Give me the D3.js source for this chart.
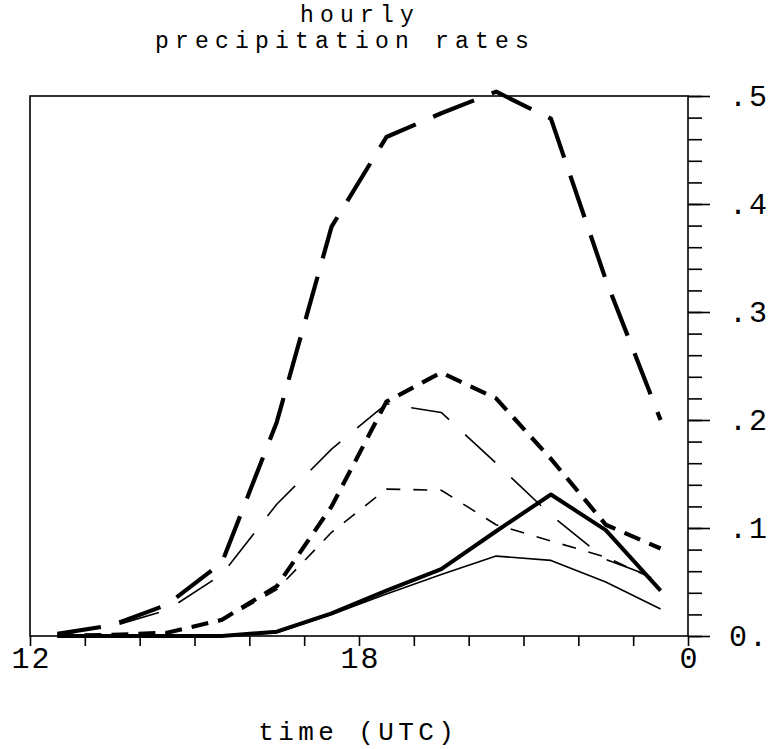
<!DOCTYPE html>
<html>
<head>
<meta charset="utf-8">
<script src="https://cdn.jsdelivr.net/npm/d3@7"></script>
<style>
  body { margin: 0; background: #fff; }
  svg text { font-family: 'Liberation Mono', 'DejaVu Sans Mono', monospace; fill: #000; }
</style>
</head>
<body>
<script>
// hours (UTC) of each hourly value, plotted at the middle of the hour
const hours = [12.5, 13.5, 14.5, 15.5, 16.5, 17.5, 18.5, 19.5, 20.5, 21.5, 22.5, 23.5]

// hourly precipitation rates, one array per curve
const thickLongDash = [0.002, 0.010, 0.029, 0.068, 0.198, 0.379, 0.462, 0.484, 0.504, 0.479, 0.330, 0.200]
const thickShortDash = [0.000, 0.001, 0.003, 0.015, 0.046, 0.120, 0.217, 0.244, 0.220, 0.164, 0.103, 0.081]
const thickSolid = [0.000, 0.000, 0.000, 0.000, 0.004, 0.021, 0.042, 0.062, 0.097, 0.131, 0.098, 0.042]
const thinLongDash = [0.002, 0.009, 0.024, 0.057, 0.122, 0.173, 0.215, 0.207, 0.160, 0.112, 0.071, 0.052]
const thinShortDash = [0.000, 0.000, 0.003, 0.014, 0.043, 0.096, 0.136, 0.135, 0.103, 0.088, 0.073, 0.050]
const thinSolid = [0.000, 0.000, 0.000, 0.000, 0.003, 0.020, 0.039, 0.057, 0.074, 0.070, 0.050, 0.025]

// axes
const xTickHours = [12, 18, 24]
const xTickLabels = ['12', '18', '0']
const yMajorTicks = [0, 0.1, 0.2, 0.3, 0.4, 0.5]
const yTickLabels = ['0.', '.1', '.2', '.3', '.4', '.5']
const titleLines = ['hourly', 'precipitation rates']
const xTitle = 'time (UTC)'

function PrecipChart() {
  const SVG_WIDTH = 768
  const SVG_HEIGHT = 749
  const MARGIN = {
    LEFT: 30,
    RIGHT: 80,
    TOP: 96,
    BOTTOM: 113,
  }
  const CHART_WIDTH = SVG_WIDTH - MARGIN.LEFT - MARGIN.RIGHT
  const CHART_HEIGHT = SVG_HEIGHT - MARGIN.TOP - MARGIN.BOTTOM
  // typewriter look: every character takes 20px, whatever the size
  const CHAR_WIDTH = 20
  const TICK_FONT = 30
  const TITLE_FONT = 23
  const AXIS_TITLE_FONT = 26
  const spacing = size => CHAR_WIDTH - 0.6 * size

  const svg = d3.select('body')
    .append('svg')
    .attr('width', SVG_WIDTH)
    .attr('height', SVG_HEIGHT)

  const chart = svg.append('g')
    .attr('transform', `translate(${MARGIN.LEFT}, ${MARGIN.TOP})`)

  const scaleX = d3.scaleLinear()
    .domain([12, 24])
    .range([0, CHART_WIDTH])

  const scaleY = d3.scaleLinear()
    .domain([0, 0.5])
    .range([CHART_HEIGHT, 0])

  // frame
  chart.append('rect')
    .attr('width', CHART_WIDTH)
    .attr('height', CHART_HEIGHT)
    .attr('fill', 'none')
    .attr('stroke', '#000')
    .attr('stroke-width', 1.6)

  // bottom axis: a tick every hour, labels only at 12, 18, 0
  const xAxis = d3.axisBottom(scaleX)
    .tickValues(d3.range(12, 25))
    .tickSize(10)
    .tickSizeOuter(0)
    .tickPadding(1)
    .tickFormat(h => {
      const i = xTickHours.indexOf(h)
      return i < 0 ? '' : xTickLabels[i]
    })

  chart.append('g')
      .attr('transform', `translate(0, ${CHART_HEIGHT})`)
      .classed('x-axis', true)
    .call(xAxis)
    .call(g => g.select('.domain').remove())
    .call(g => g.selectAll('line').attr('stroke-width', 1.6))
    .selectAll('text')
      .attr('font-size', `${TICK_FONT}px`)
      .attr('letter-spacing', `${spacing(TICK_FONT)}px`)
      .attr('dx', spacing(TICK_FONT) / 2)

  // right axis: minor ticks every .02, long ticks every .1
  const yMinor = d3.axisRight(scaleY)
    .tickValues(d3.range(0, 0.5001, 0.02))
    .tickSize(14)
    .tickSizeOuter(0)
    .tickFormat('')

  chart.append('g')
      .attr('transform', `translate(${CHART_WIDTH}, 0)`)
      .classed('y-axis-minor', true)
    .call(yMinor)
    .call(g => g.select('.domain').remove())
    .call(g => g.selectAll('line').attr('stroke-width', 1.6))

  const yMajor = d3.axisRight(scaleY)
    .tickValues(yMajorTicks)
    .tickSize(22)
    .tickSizeOuter(0)
    .tickPadding(19)
    .tickFormat((d, i) => yTickLabels[i])

  chart.append('g')
      .attr('transform', `translate(${CHART_WIDTH}, 0)`)
      .classed('y-axis', true)
    .call(yMajor)
    .call(g => g.select('.domain').remove())
    .call(g => g.selectAll('line').attr('stroke-width', 1.6))
    .selectAll('text')
      .attr('font-size', `${TICK_FONT}px`)
      .attr('letter-spacing', `${spacing(TICK_FONT)}px`)

  // curves
  const SERIES = [
    {values: thinSolid, width: 1.6, dash: null},
    {values: thinShortDash, width: 1.6, dash: '14,13'},
    {values: thinLongDash, width: 1.6, dash: '41,22'},
    {values: thickSolid, width: 4, dash: null},
    {values: thickShortDash, width: 4.2, dash: '17,10'},
    {values: thickLongDash, width: 4.2, dash: '44,19'},
  ]

  const line = d3.line()
    .x((d, i) => scaleX(hours[i]))
    .y(d => scaleY(d))

  chart.append('g')
      .attr('id', 'curves')
    .selectAll('path')
    .data(SERIES)
    .enter()
      .append('path')
      .attr('d', s => line(s.values))
      .attr('fill', 'none')
      .attr('stroke', '#000')
      .attr('stroke-width', s => s.width)
      .attr('stroke-dasharray', s => s.dash)
      .attr('stroke-linejoin', 'round')

  // titles
  svg.append('g')
      .attr('id', 'chart-title')
    .selectAll('text')
    .data(titleLines)
    .enter()
      .append('text')
      .text(d => d)
      .attr('x', (d, i) => i === 0 ? 357 : 342)
      .attr('y', (d, i) => 22 + i * 26)
      .attr('text-anchor', 'middle')
      .attr('dx', spacing(TITLE_FONT) / 2)
      .attr('font-size', `${TITLE_FONT}px`)
      .attr('letter-spacing', `${spacing(TITLE_FONT)}px`)

  svg.append('text')
    .text(xTitle)
    .attr('id', 'x-title')
    .attr('x', 356)
    .attr('y', 740)
    .attr('text-anchor', 'middle')
    .attr('dx', spacing(AXIS_TITLE_FONT) / 2)
    .attr('font-size', `${AXIS_TITLE_FONT}px`)
    .attr('letter-spacing', `${spacing(AXIS_TITLE_FONT)}px`)
}

PrecipChart()
</script>
</body>
</html>
